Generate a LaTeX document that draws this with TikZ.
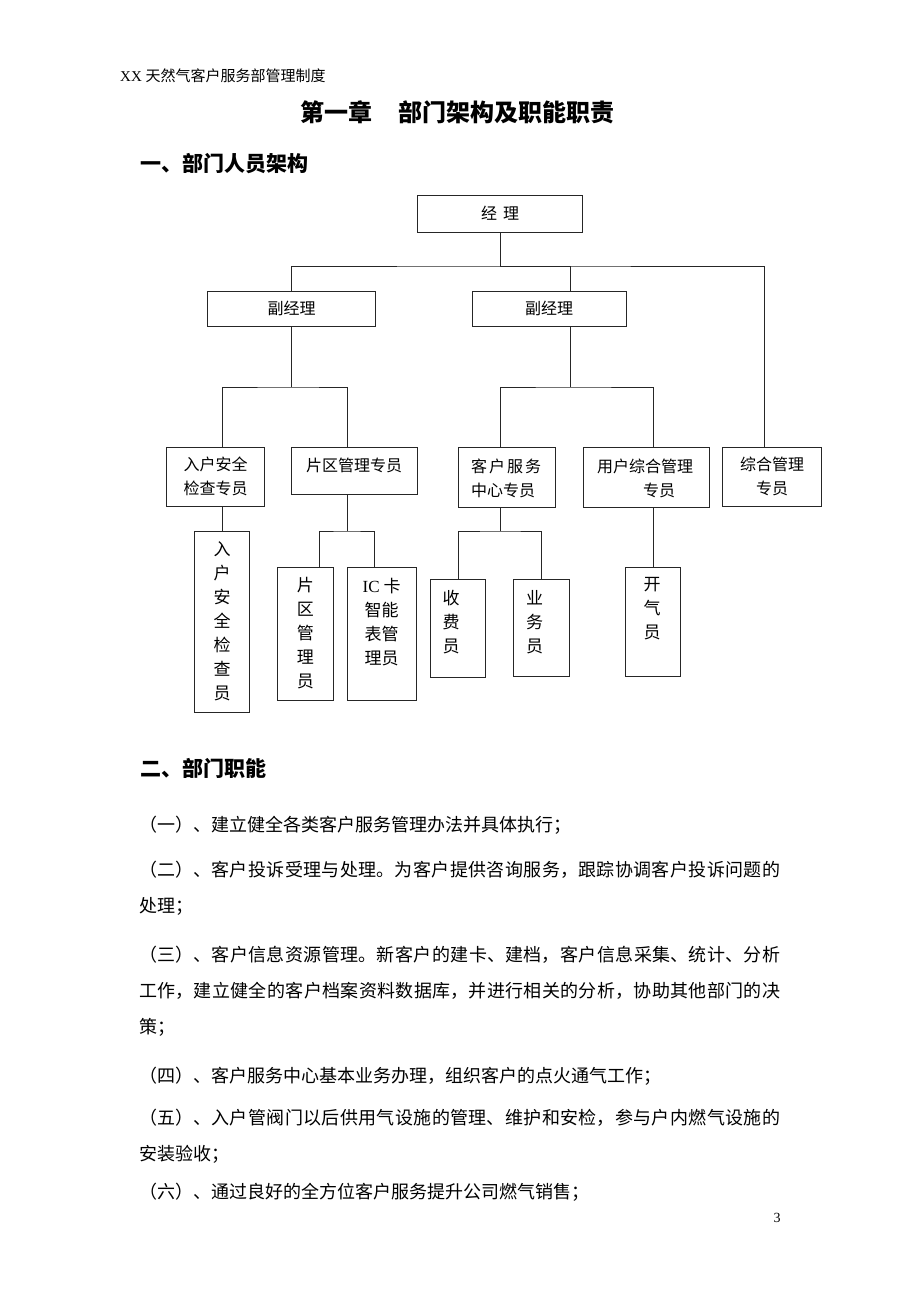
\documentclass[tikz,border=0pt]{standalone}
\usepackage{fontspec}
\setmainfont{Liberation Serif}
\newfontfamily\cjk{Noto Sans CJK SC}
\XeTeXlinebreaklocale "zh"
\XeTeXlinebreakskip=0pt plus 1pt

\tikzset{
  wire/.style={line width=0.9pt, draw=black!85},
  unit/.style={draw=black!85, line width=0.9pt, inner sep=0pt, align=center,
    font=\fontsize{16pt}{24pt}\cjk},
  col/.style={unit, font=\fontsize{17pt}{24pt}\cjk},
  tag/.style={inner sep=0pt, align=center, font=\fontsize{16pt}{24pt}\cjk},
  vtag/.style={inner sep=0pt, align=center, font=\fontsize{17pt}{24pt}\cjk},
  para/.style={inner sep=0pt, text width=641pt, align=justify, anchor=base west,
    font=\fontsize{18pt}{36pt}\cjk},
  head/.style={inner sep=0pt, anchor=base west, font=\fontsize{21pt}{24pt}\cjk\bfseries}
}

\begin{document}
\begin{tikzpicture}[x=1pt,y=-1pt]
  \useasboundingbox (0,0) rectangle (920,1302);
  \fill[white] (0,0) rectangle (920,1302);

  % page head and titles
  \node[inner sep=0pt, anchor=base west, font=\fontsize{15pt}{18pt}\selectfont] (runhead)
    at (120,81) {XX {\cjk 天然气客户服务部管理制度}};
  \node[inner sep=0pt, anchor=base west, font=\fontsize{24pt}{28pt}\cjk\bfseries] (chapter)
    at (300,121) {第一章\hspace{26pt}部门架构及职能职责};
  \node[head] (sec1) at (140,171) {一、部门人员架构};

  % boxes
  \node[unit, minimum width=165pt, minimum height=37pt] (jl) at (500,213.5) {经\hspace{6pt}理};
  \node[unit, minimum width=168pt, minimum height=35pt] (fjl1) at (291.5,308.5) {副经理};
  \node[unit, minimum width=154pt, minimum height=35pt] (fjl2) at (549,308.5) {副经理};

  \node[unit, minimum width=98pt, minimum height=59.5pt] (rhzy) at (215.5,476.8) {入户安全\\检查专员};
  \node[unit, minimum width=125.6pt, minimum height=47pt] (pqzy) at (354.5,470.5) {};
  \node[tag] (pqzy-t) at (354,465) {片区管理专员};
  \node[unit, minimum width=97.4pt, minimum height=60pt] (kfzy) at (507,477) {};
  \node[tag, align=left, anchor=west] (kfzy-t) at (471,478) {客\hspace{2pt}户\hspace{2pt}服\hspace{2pt}务\\中心专员};
  \node[unit, minimum width=125.5pt, minimum height=60pt] (yhzy) at (646.3,477) {};
  \node[tag, align=left, anchor=west] (yhzy-t) at (597,478) {用户综合管理\\\hspace{46pt}专员};
  \node[unit, minimum width=99pt, minimum height=59pt] (zhzy) at (772.2,476.5) {综合管理\\专员};

  \node[col, minimum width=55pt, minimum height=181pt] (rhjc) at (222,621.5) {入\\户\\安\\全\\检\\查\\员};
  \node[col, minimum width=55.3pt, minimum height=133pt] (pqgl) at (305.4,633.5) {片\\区\\管\\理\\员};
  \node[unit, minimum width=69.7pt, minimum height=133pt] (icgl) at (381.9,633.5) {};
  \node[vtag] (icgl-t) at (381.6,622.5) {{\rmfamily IC} 卡\\智能\\表管\\理员};
  \node[unit, minimum width=55pt, minimum height=98pt] (sfy) at (458,628) {};
  \node[vtag] (sfy-t) at (451,622.5) {收\\费\\员};
  \node[unit, minimum width=56pt, minimum height=97pt] (ywy) at (541.6,627.5) {};
  \node[vtag] (ywy-t) at (534.5,622.5) {业\\务\\员};
  \node[unit, minimum width=55pt, minimum height=109pt] (kqy) at (653,621.5) {};
  \node[vtag] (kqy-t) at (652,609) {开\\气\\员};

  % connectors
  \coordinate (bus1) at (500,266);
  \coordinate (bus2) at (291.5,387);
  \coordinate (bus3) at (570,387);
  \coordinate (bus4) at (347,531);
  \coordinate (bus5) at (500.7,531);
  \draw[wire] (jl.south) -- (bus1);
  \draw[wire] (fjl1.north) |- (bus1) -| ([xshift=-8pt]zhzy.north);
  \draw[wire] ([xshift=21pt]fjl2.north) |- (bus1);
  \draw[wire] (fjl1.south) -- (bus2);
  \draw[wire] ([xshift=6.5pt]rhzy.north) |- (bus2) -| ([xshift=-7.5pt]pqzy.north);
  \draw[wire] ([xshift=21pt]fjl2.south) -- (bus3);
  \draw[wire] ([xshift=-6.3pt]kfzy.north) |- (bus3) -| ([xshift=7pt]yhzy.north);
  \draw[wire] ([xshift=6.5pt]rhzy.south) -- (rhjc.north);
  \draw[wire] ([xshift=-7.5pt]pqzy.south) -- (bus4);
  \draw[wire] ([xshift=14pt]pqgl.north) |- (bus4) -| ([xshift=-7pt]icgl.north);
  \draw[wire] ([xshift=-6.3pt]kfzy.south) -- (bus5);
  \draw[wire] (sfy.north) |- (bus5) -| (ywy.north);
  \draw[wire] ([xshift=6.7pt]yhzy.south) -- (kqy.north);

  % duties
  \node[head] (sec2) at (140,776) {二、部门职能};
  \node[para] (d1) at (139,831) {\noindent（一）、建立健全各类客户服务管理办法并具体执行；};
  \node[para] (d2) at (139,876) {\noindent（二）、客户投诉受理与处理。为客户提供咨询服务，跟踪协调客户投诉问题的处理；};
  \node[para] (d3) at (139,961) {\noindent（三）、客户信息资源管理。新客户的建卡、建档，客户信息采集、统计、分析工作，建立健全的客户档案资料数据库，并进行相关的分析，协助其他部门的决策；};
  \node[para] (d4) at (139,1082) {\noindent（四）、客户服务中心基本业务办理，组织客户的点火通气工作；};
  \node[para] (d5) at (139,1124) {\noindent（五）、入户管阀门以后供用气设施的管理、维护和安检，参与户内燃气设施的安装验收；};
  \node[para] (d6) at (139,1198) {\noindent（六）、通过良好的全方位客户服务提升公司燃气销售；};
  \node[inner sep=0pt, anchor=base, font=\fontsize{14pt}{16pt}\selectfont] (pageno) at (777,1222) {3};
\end{tikzpicture}
\end{document}
